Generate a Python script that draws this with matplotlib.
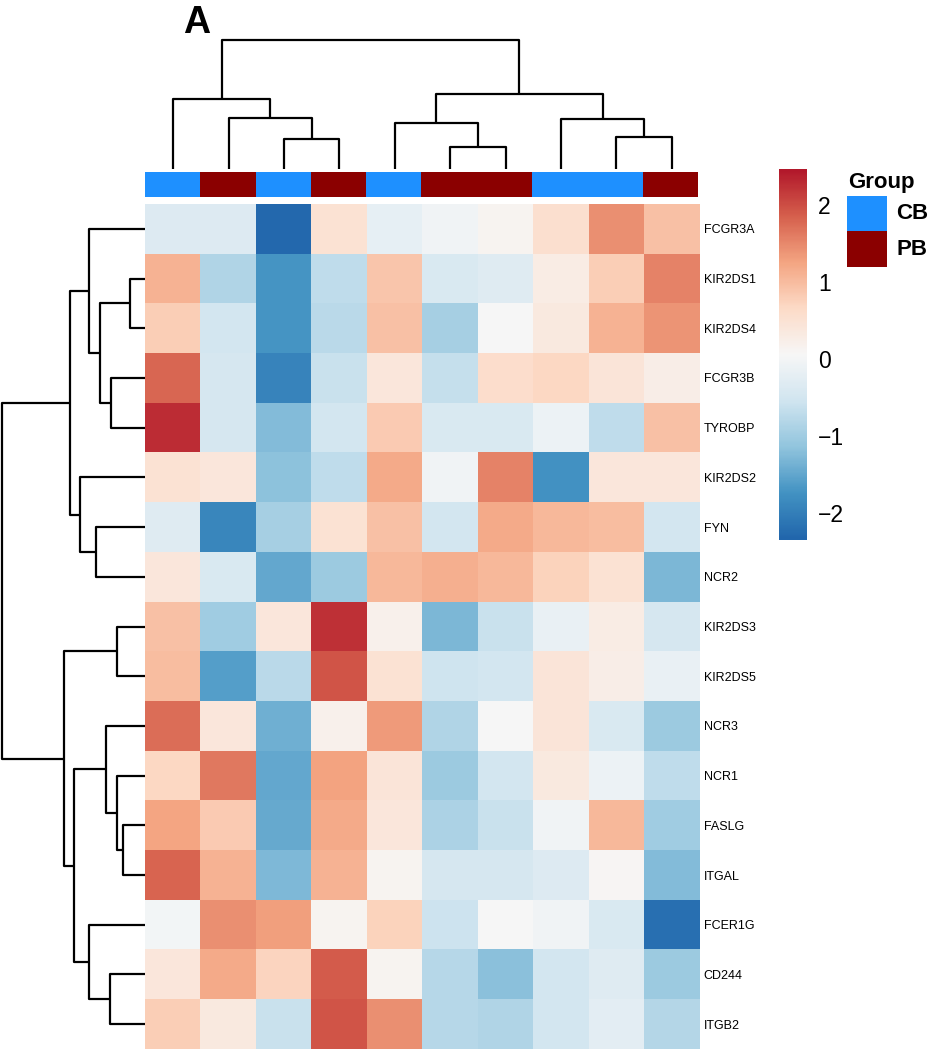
import numpy as np
import matplotlib
matplotlib.use("Agg")
import matplotlib.pyplot as plt
from matplotlib.colors import LinearSegmentedColormap, ListedColormap
from matplotlib.patches import Rectangle
from matplotlib import font_manager

plt.rcParams['font.family'] = ['Liberation Sans', 'DejaVu Sans']

# ---------------- data ----------------
genes = ["FCGR3A", "KIR2DS1", "KIR2DS4", "FCGR3B", "TYROBP", "KIR2DS2", "FYN",
         "NCR2", "KIR2DS3", "KIR2DS5", "NCR3", "NCR1", "FASLG", "ITGAL",
         "FCER1G", "CD244", "ITGB2"]
groups = ["CB", "PB", "CB", "PB", "CB", "PB", "PB", "CB", "CB", "PB"]
group_levels = ["CB", "PB"]
group_colors = ["#1E90FF", "#8B0000"]

zscores = [
    [-0.35, -0.35, -2.30,  0.50, -0.20, -0.05,  0.15,  0.55,  1.45,  0.95],  # FCGR3A
    [ 1.10, -0.85, -1.72, -0.70,  0.90, -0.40, -0.30,  0.30,  0.80,  1.55],  # KIR2DS1
    [ 0.80, -0.50, -1.72, -0.75,  0.95, -0.95,  0.05,  0.35,  1.10,  1.40],  # KIR2DS4
    [ 1.80, -0.45, -1.95, -0.60,  0.40, -0.65,  0.60,  0.70,  0.45,  0.25],  # FCGR3B
    [ 2.30, -0.45, -1.25, -0.50,  0.85, -0.40, -0.40, -0.10, -0.70,  0.95],  # TYROBP
    [ 0.50,  0.40, -1.18, -0.70,  1.20, -0.05,  1.55, -1.75,  0.40,  0.40],  # KIR2DS2
    [-0.30, -1.90, -0.95,  0.50,  0.95, -0.50,  1.20,  1.05,  1.00, -0.50],  # FYN
    [ 0.40, -0.40, -1.50, -1.05,  1.05,  1.15,  1.05,  0.75,  0.50, -1.30],  # NCR2
    [ 0.95, -1.00,  0.40,  2.25,  0.20, -1.30, -0.60, -0.15,  0.30, -0.45],  # KIR2DS3
    [ 1.00, -1.60, -0.75,  1.95,  0.50, -0.55, -0.50,  0.45,  0.25, -0.15],  # KIR2DS5
    [ 1.75,  0.40, -1.40,  0.20,  1.35, -0.85,  0.05,  0.45, -0.40, -1.05],  # NCR3
    [ 0.70,  1.65, -1.50,  1.28,  0.45, -1.05, -0.50,  0.35, -0.10, -0.70],  # NCR1
    [ 1.25,  0.85, -1.48,  1.20,  0.40, -0.90, -0.60, -0.05,  1.05, -1.00],  # FASLG
    [ 1.82,  1.10, -1.28,  1.10,  0.15, -0.45, -0.45, -0.35,  0.10, -1.25],  # ITGAL
    [ 0.00,  1.45,  1.32,  0.15,  0.75, -0.57,  0.05, -0.05, -0.40, -2.20],  # FCER1G
    [ 0.40,  1.20,  0.72,  1.90,  0.15, -0.80, -1.20, -0.50, -0.30, -1.05],  # CD244
    [ 0.80,  0.35, -0.60,  1.95,  1.45, -0.80, -0.85, -0.50, -0.25, -0.82],  # ITGB2
]

# dendrogram merges: (left child, right child, height); children >= n are earlier merges
col_links = [(2, 3, 30), (1, 10, 51), (0, 11, 70), (5, 6, 22), (4, 13, 46),
             (8, 9, 32), (7, 15, 50), (14, 16, 75), (12, 17, 129)]
row_links = [(1, 2, 47), (3, 4, 102), (17, 18, 135), (0, 19, 170), (6, 7, 149),
             (5, 21, 195), (20, 22, 225), (8, 9, 86), (12, 13, 67), (11, 25, 85),
             (10, 26, 119), (15, 16, 106), (14, 28, 168), (27, 29, 213),
             (24, 30, 245), (23, 31, 430)]

cb_ticks = [-2, -1, 0, 1, 2]
vmin, vmax = -2.35, 2.47

# ---------------- figure ----------------
W, H = 934, 1050
fig = plt.figure(figsize=(W / 100, H / 100), dpi=100)


def box(x0, y0, x1, y1):
    return [x0 / W, 1 - y1 / H, (x1 - x0) / W, (y1 - y0) / H]


cmap = LinearSegmentedColormap.from_list(
    "rdbu9", ["#2166AC", "#4393C3", "#92C5DE", "#D1E5F0", "#F7F7F7",
              "#FDDBC7", "#F4A582", "#D6604D", "#B2182B"])

hm_x0, hm_x1, hm_y0, hm_y1 = 145.4, 699.5, 204, 1049
data = np.array(zscores)
nr, nc = data.shape

ax_hm = fig.add_axes(box(hm_x0, hm_y0, hm_x1, hm_y1))
ax_hm.imshow(data, cmap=cmap, vmin=vmin, vmax=vmax, aspect='auto',
             interpolation='nearest', extent=(0, nc, nr, 0))
ax_hm.set_xlim(0, nc)
ax_hm.set_ylim(nr, 0)
ax_hm.set_xticks([])
ax_hm.yaxis.tick_right()
ax_hm.set_yticks(np.arange(nr) + 0.5)
ax_hm.set_yticklabels(genes, fontsize=9)
ax_hm.tick_params(axis='y', length=0, pad=3)
for s in ax_hm.spines.values():
    s.set_visible(False)

# annotation bar
ax_ann = fig.add_axes(box(hm_x0, 171.5, 698, 197))
gidx = np.array([[group_levels.index(g) for g in groups]])
ax_ann.imshow(gidx, cmap=ListedColormap(group_colors), vmin=0, vmax=1,
              aspect='auto', interpolation='nearest', extent=(0, nc, 1, 0))
ax_ann.set_xlim(0, nc)
ax_ann.axis('off')


def draw_dendro(ax, links, n, orient):
    pos = [i + 0.5 for i in range(n)]
    hgt = [0.0] * n
    for a, b, h in links:
        pa, pb, ha, hb = pos[a], pos[b], hgt[a], hgt[b]
        if orient == 'top':
            ax.plot([pa, pa, pb, pb], [ha, h, h, hb], color='black', lw=1.6,
                    clip_on=False, solid_capstyle='butt')
        else:
            ax.plot([ha, h, h, hb], [pa, pa, pb, pb], color='black', lw=1.6,
                    clip_on=False, solid_capstyle='butt')
        pos.append((pa + pb) / 2)
        hgt.append(h)
    return max(hgt)


# column dendrogram
ax_cd = fig.add_axes(box(hm_x0, 40, hm_x1, 169))
top = draw_dendro(ax_cd, col_links, nc, 'top')
ax_cd.set_xlim(0, nc)
ax_cd.set_ylim(0, top)
ax_cd.axis('off')

# row dendrogram
ax_rd = fig.add_axes(box(2, hm_y0, hm_x0, hm_y1))
rt = draw_dendro(ax_rd, row_links, nr, 'left')
ax_rd.set_xlim(rt, 0)
ax_rd.set_ylim(nr, 0)
ax_rd.axis('off')

# colorbar
ax_cb = fig.add_axes(box(779, 169, 807, 540))
grad = np.linspace(vmin, vmax, 300).reshape(-1, 1)
ax_cb.imshow(grad, cmap=cmap, vmin=vmin, vmax=vmax, aspect='auto',
             origin='lower', extent=(0, 1, vmin, vmax))
ax_cb.set_xticks([])
ax_cb.yaxis.tick_right()
ax_cb.set_yticks(cb_ticks)
ax_cb.set_yticklabels([f"{t:d}".replace("-", "\u2212") for t in cb_ticks],
                      fontsize=16.5)
ax_cb.tick_params(axis='y', length=0, pad=8)
for s in ax_cb.spines.values():
    s.set_visible(False)

# group legend
fig.text(848 / W, 1 - 188 / H, "Group", fontsize=16, fontweight='bold',
         ha='left', va='baseline')
for i, (lab, col) in enumerate(zip(group_levels, group_colors)):
    y0 = 196 + i * 35.5
    fig.add_artist(Rectangle((847 / W, 1 - (y0 + 35.5) / H), 40 / W, 35.5 / H,
                             transform=fig.transFigure, facecolor=col,
                             edgecolor='none'))
    fig.text(896 / W, 1 - (y0 + 17.75) / H, lab, fontsize=16,
             fontweight='bold', ha='left', va='center')

# panel letter (condensed bold look)
installed = {f.name for f in font_manager.fontManager.ttflist}
letter_family = 'Liberation Sans Narrow' if 'Liberation Sans Narrow' in installed else 'Liberation Sans'
fig.text(197 / W, 1 - 33 / H, "A", fontsize=27, fontweight='bold',
         family=letter_family, ha='center', va='baseline')

fig.savefig("out.png", dpi=100)
